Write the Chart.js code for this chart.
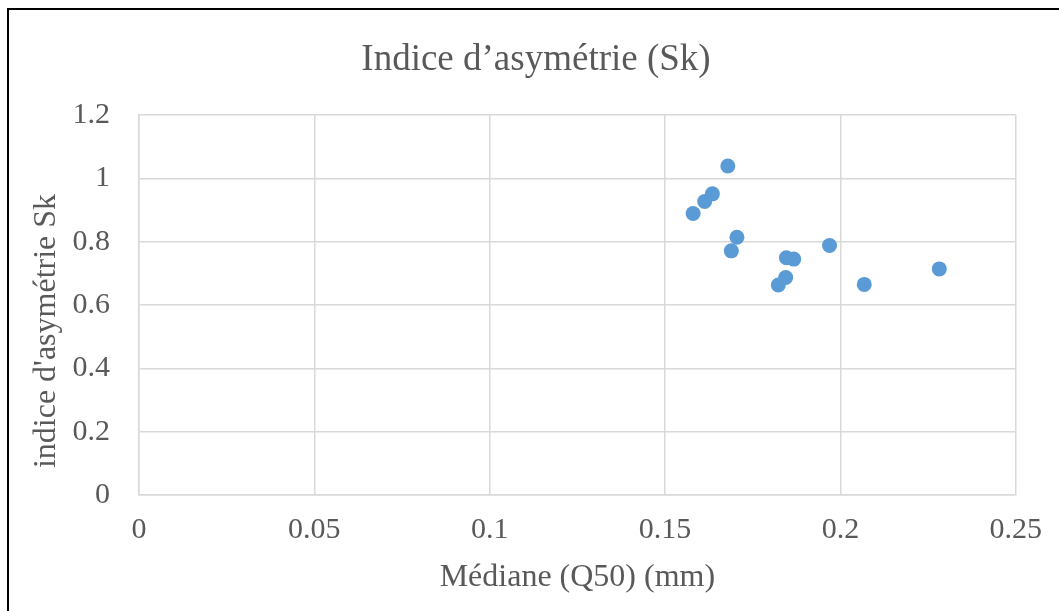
<!DOCTYPE html>
<html>
<head>
<meta charset="utf-8">
<script src="https://cdn.jsdelivr.net/npm/chart.js@4.4.1/dist/chart.umd.min.js"></script>
<style>
  html, body { margin: 0; padding: 0; background: #ffffff; overflow: hidden; }
  #wrap { position: relative; width: 1059px; height: 611px; }
  #frame { position: absolute; left: 7px; top: 8px; width: 1200px; height: 800px; border-top: 2px solid #000; border-left: 2px solid #000; box-sizing: border-box; pointer-events: none; }
  canvas { position: absolute; left: 0; top: 0; }
</style>
</head>
<body>
<div id="wrap">
  <canvas id="c" width="1059" height="611"></canvas>
  <div id="frame"></div>
</div>
<script>
const chartTitle = "Indice d\u2019asym\u00e9trie (Sk)";
const xAxisTitle = "M\u00e9diane (Q50) (mm)";
const yAxisTitle = "indice d'asym\u00e9trie Sk";
const medianValues = [0.1580, 0.1613, 0.1635, 0.1679, 0.1689, 0.1705, 0.1823, 0.1844, 0.1846, 0.1867, 0.1969, 0.2068, 0.2282];
const skValues     = [0.889, 0.927, 0.951, 1.039, 0.771, 0.814, 0.663, 0.687, 0.749, 0.745, 0.788, 0.665, 0.714];
const xTickLabels = ["0", "0.05", "0.1", "0.15", "0.2", "0.25"];
const yTickLabels = ["0", "0.2", "0.4", "0.6", "0.8", "1", "1.2"];

const points = medianValues.map((x, i) => ({ x: x, y: skValues[i] }));
const serif = "'Liberation Serif', 'Times New Roman', serif";
const textColor = "#595959";
const gridColor = "#d9d9d9";
const padLeft = 56;

function shiftTitle(scale, dy) {
  if (scale._titleShifted) return;
  const orig = scale.drawTitle;
  scale.drawTitle = function () {
    const t = this.top, b = this.bottom;
    this.top = t + dy; this.bottom = b + dy;
    orig.call(this);
    this.top = t; this.bottom = b;
  };
  scale._titleShifted = true;
}

new Chart(document.getElementById("c"), {
  type: "scatter",
  data: {
    datasets: [{
      data: points,
      backgroundColor: "#5b9bd5",
      borderColor: "#5b9bd5",
      borderWidth: 0,
      pointRadius: 7.5,
      pointHoverRadius: 7.5
    }]
  },
  options: {
    responsive: false,
    animation: false,
    layout: { padding: { left: padLeft, right: 43, top: 0, bottom: 0 } },
    plugins: {
      legend: { display: false },
      tooltip: { enabled: false },
      title: {
        display: true,
        text: chartTitle,
        color: textColor,
        font: { family: serif, size: 37, weight: "normal" },
        padding: { top: 38, bottom: 32.6 }
      }
    },
    scales: {
      x: {
        type: "linear",
        min: 0, max: 0.25,
        afterFit: (s) => { s.height = 116; },
        afterBuildTicks: (s) => { s.ticks = xTickLabels.map(t => ({ value: parseFloat(t) })); },
        ticks: {
          color: textColor,
          font: { family: serif, size: 30 },
          padding: 17,
          maxRotation: 0,
          callback: (v, i) => xTickLabels[i]
        },
        grid: { color: gridColor, lineWidth: 1.5, drawTicks: false },
        border: { display: true, color: gridColor, width: 1.5 },
        title: {
          display: true,
          text: xAxisTitle,
          color: textColor,
          font: { family: serif, size: 32 },
          padding: { top: 0, bottom: 14 }
        }
      },
      y: {
        type: "linear",
        min: 0, max: 1.2,
        afterFit: (s) => { s.width = 139 - padLeft; },
        afterUpdate: (s) => { shiftTitle(s, 26); },
        afterBuildTicks: (s) => { s.ticks = yTickLabels.map(t => ({ value: parseFloat(t) })); },
        ticks: {
          color: textColor,
          font: { family: serif, size: 30 },
          padding: 29,
          callback: (v, i) => yTickLabels[i]
        },
        grid: { color: gridColor, lineWidth: 1.5, drawTicks: false },
        border: { display: true, color: gridColor, width: 1.5 },
        title: {
          display: true,
          text: yAxisTitle,
          color: textColor,
          font: { family: serif, size: 32 },
          padding: { top: 27 - padLeft, bottom: 0 }
        }
      }
    }
  }
});
</script>
</body>
</html>
